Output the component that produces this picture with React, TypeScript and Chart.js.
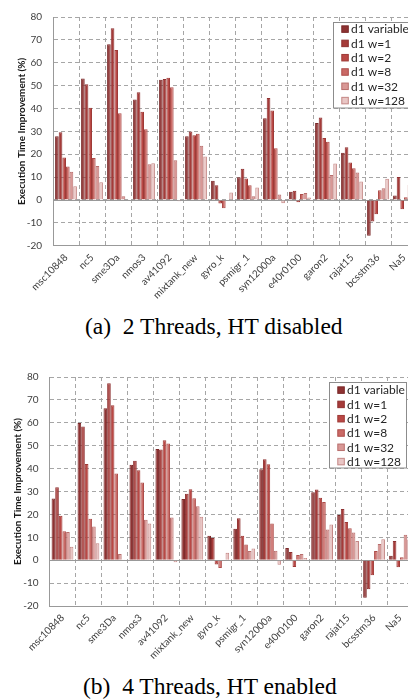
import React, { useEffect, useRef } from "react";
import { Chart, registerables } from "chart.js";
Chart.register(...registerables);

const categories = ["msc10848", "nc5", "sme3Da", "nmos3", "av41092", "mixtank_new", "gyro_k", "psmigr_1", "syn12000a", "e40r0100", "garon2", "rajat15", "bcsstm36", "Na5"];
const seriesNames = ["d1 variable", "d1 w=1", "d1 w=2", "d1 w=8", "d1 w=32", "d1 w=128"];
const yTicks = [-20, -10, 0, 10, 20, 30, 40, 50, 60, 70, 80];
const yTitle = "Execution Time Improvement (%)";

// (a) 2 Threads, HT disabled
const aVariable = [27.9, 53.1, 68.1, 43.9, 52.6, 27.9, 8.4, 9.9, 35.7, 3.6, 33.6, 20.6, -15.7, 1.9];
const aW1 = [29.6, 50.6, 75.1, 47.1, 52.9, 29.9, 6.4, 13.7, 44.6, 4.0, 36.1, 23.0, -9.4, 10.0];
const aW2 = [18.6, 40.3, 65.6, 38.6, 53.4, 28.3, -1.6, 9.4, 39.1, -1.0, 27.1, 16.4, -6.3, -4.1];
const aW8 = [14.6, 18.3, 37.9, 30.9, 49.3, 29.0, -3.6, 6.4, 22.6, 2.6, 25.4, 13.9, 4.3, 1.2];
const aW32 = [12.3, 14.9, 1.6, 15.6, 17.4, 23.7, 0.2, 1.6, 2.4, 3.0, 10.9, 12.0, 5.1, 6.5];
const aW128 = [6.0, 7.7, 0.3, 16.0, -0.6, 19.0, 3.3, 5.4, -1.4, 1.1, 15.9, 8.1, 9.3, 9.0];

// (b) 4 Threads, HT enabled
const bVariable = [26.9, 59.9, 66.3, 41.7, 48.6, 26.7, 10.7, 13.7, 39.7, 5.3, 29.7, 19.7, -16.4, 1.9];
const bW1 = [31.9, 58.4, 77.3, 43.4, 48.3, 29.0, 9.7, 18.3, 44.1, 3.6, 30.9, 22.4, -12.7, 8.4];
const bW2 = [19.4, 42.0, 67.7, 39.3, 52.4, 31.0, -1.9, 10.7, 41.9, -3.0, 27.3, 16.7, -6.6, -3.1];
const bW8 = [12.6, 18.1, 37.9, 33.9, 51.0, 27.1, -3.4, 6.9, 16.0, 2.3, 25.4, 13.9, 4.0, 1.3];
const bW32 = [12.3, 14.7, 2.7, 17.7, 18.6, 23.6, -0.3, 4.0, 4.1, 2.7, 13.4, 12.1, 7.1, 11.1];
const bW128 = [5.9, 7.4, 0.3, 16.0, -0.9, 19.0, 3.3, 5.1, -2.0, 1.0, 15.6, 8.4, 9.1, 9.0];

const fills = ["#8E3232", "#A53B39", "#BA4845", "#CA6A66", "#D99896", "#E9C6C5"];
const borders = ["#7A2828", "#8E3030", "#9E3A37", "#AD4D4A", "#B86E6C", "#C48684"];
const GRID = "#a6a6a6";
const AXIS = "#999999";
const FONT = "Lato";

const zeroLine = {
  id: "zeroLine",
  beforeDatasetsDraw(chart: any) {
    const { ctx, chartArea, scales } = chart;
    const py = Math.round(scales.y.getPixelForValue(0)) + 0.5;
    ctx.save();
    ctx.strokeStyle = AXIS;
    ctx.lineWidth = 1;
    ctx.beginPath();
    ctx.moveTo(chartArea.left, py);
    ctx.lineTo(chartArea.right, py);
    ctx.stroke();
    ctx.restore();
  },
};

const boxLegend = {
  id: "boxLegend",
  afterDraw(chart: any, _args: any, opts: any) {
    const { ctx, chartArea } = chart;
    const w = opts.width, h = opts.height;
    const left = Math.round(chartArea.right - opts.right - w) + 0.5;
    const top = Math.round(chartArea.top + opts.top) + 0.5;
    ctx.save();
    ctx.fillStyle = "#ffffff";
    ctx.fillRect(left, top, w, h);
    ctx.strokeStyle = "#8c8c8c";
    ctx.lineWidth = 1;
    ctx.strokeRect(left, top, w, h);
    ctx.font = `12px ${FONT}`;
    ctx.textBaseline = "middle";
    ctx.textAlign = "left";
    chart.data.datasets.forEach((ds: any, i: number) => {
      const cy = top + opts.firstRow + i * opts.rowStep;
      const s = 6.5;
      ctx.fillStyle = ds.backgroundColor;
      ctx.fillRect(left + opts.swatchX, cy - s / 2, s, s);
      ctx.strokeStyle = ds.borderColor;
      ctx.strokeRect(left + opts.swatchX, cy - s / 2, s, s);
      ctx.fillStyle = "#262626";
      ctx.fillText(ds.label, left + opts.textX, cy + 0.5);
    });
    ctx.restore();
  },
};

type Geo = { top: number; left: number; xHeight: number; rightPad: number; titlePad: number; legendFirst: number };

function makeChart(canvas: HTMLCanvasElement, series: number[][], geo: Geo) {
  return new Chart(canvas, {
    type: "bar",
    data: {
      labels: categories,
      datasets: seriesNames.map((name, i) => ({
        label: name,
        data: series[i],
        backgroundColor: fills[i],
        borderColor: borders[i],
        borderWidth: 1,
        categoryPercentage: 0.84,
        barPercentage: 1,
      })),
    },
    options: {
      responsive: false,
      animation: false,
      events: [],
      layout: { padding: { top: geo.top, right: geo.rightPad, bottom: 0, left: 0 } },
      plugins: {
        legend: { display: false },
        tooltip: { enabled: false },
        boxLegend: { right: 7, top: 4.5, width: 77, height: 85.5, firstRow: geo.legendFirst, rowStep: 14.3, swatchX: 8.3, textX: 17.5 },
      } as any,
      scales: {
        x: {
          grid: { color: GRID, drawTicks: false, offset: true },
          border: { color: AXIS, dash: [4, 3] },
          ticks: { autoSkip: false, maxRotation: 45, minRotation: 45, padding: 6, color: "#404040", font: { family: FONT, size: 10 } },
          afterFit: (s: any) => { s.height = geo.xHeight; },
        },
        y: {
          min: -20,
          max: 80,
          afterBuildTicks: (s: any) => { s.ticks = yTicks.map((v) => ({ value: v })); },
          grid: { color: GRID, drawTicks: false },
          border: { color: AXIS, dash: [4, 3] },
          ticks: { padding: 11, color: "#404040", font: { family: FONT, size: 10 } },
          title: { display: true, text: yTitle, color: "#1a1a1a", font: { family: FONT, size: 10, weight: "bold" }, padding: { top: geo.titlePad, bottom: 0 } },
          afterFit: (s: any) => { s.width = geo.left; },
        },
      },
    } as any,
    plugins: [zeroLine, boxLegend],
  });
}

function Panel({ series, geo, top, width }: { series: number[][]; geo: Geo; top: number; width: number }) {
  const ref = useRef<HTMLCanvasElement>(null);
  useEffect(() => {
    const chart = makeChart(ref.current!, series, geo);
    return () => chart.destroy();
  }, []);
  return <canvas ref={ref} width={width} height={312} style={{ position: "absolute", left: 0, top }} />;
}

export default function App() {
  const captionStyle: React.CSSProperties = {
    position: "absolute",
    fontFamily: '"Liberation Serif", serif',
    fontSize: "23.5px",
    lineHeight: "23.5px",
    whiteSpace: "pre",
    color: "#000",
  };
  return (
    <div style={{ position: "absolute", left: 0, top: 0, width: 408, height: 700, overflow: "hidden", background: "#fff" }}>
      <Panel
        series={[aVariable, aW1, aW2, aW8, aW32, aW128]}
        geo={{ top: 12, left: 53, xHeight: 66.3, rightPad: 8, titlePad: 16, legendFirst: 6.6 }}
        top={0}
        width={425}
      />
      <div style={{ ...captionStyle, left: 85, top: 315 }}>{"(a)  2 Threads, HT disabled"}</div>
      <Panel
        series={[bVariable, bW1, bW2, bW8, bW32, bW128]}
        geo={{ top: 12.7, left: 49.5, xHeight: 66, rightPad: 8, titlePad: 12, legendFirst: 7.6 }}
        top={360}
        width={421.5}
      />
      <div style={{ ...captionStyle, left: 83, top: 675 }}>{"(b)  4 Threads, HT enabled"}</div>
    </div>
  );
}
